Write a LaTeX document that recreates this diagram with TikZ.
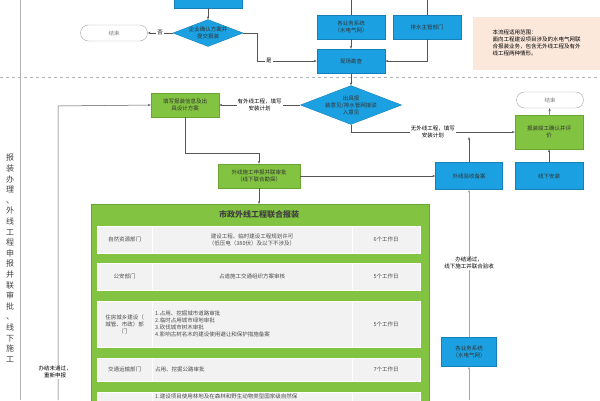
\documentclass[tikz,border=0pt]{standalone}
\usepackage{fontspec}
\setmainfont{Noto Sans CJK SC}
\usetikzlibrary{shapes.geometric,arrows.meta}
\definecolor{bl}{HTML}{1BA1E2}
\definecolor{blb}{HTML}{1580B8}
\definecolor{gr}{HTML}{82C341}
\definecolor{grb}{HTML}{6AA532}
\definecolor{pe}{HTML}{FBE8DA}
\definecolor{cell}{HTML}{F2F2F2}
\definecolor{ln}{HTML}{555555}
\tikzset{
 every node/.style={font=\fontsize{5.5pt}{7pt}\selectfont, align=center, inner sep=1pt},
 bbox/.style={draw=blb, fill=bl, text=black!80, minimum width=68pt, minimum height=#1},
 bbox/.default=24pt,
 gbox/.style={draw=grb, fill=gr, text=black!80, minimum width=68pt, minimum height=#1},
 gbox/.default=24pt,
 term/.style={draw=gray!70, fill=white, rounded corners=8pt, minimum width=67pt, minimum height=16pt, text=gray},
 dia/.style={diamond, aspect=2.6, draw=blb, fill=bl, inner sep=0pt, text=black!80},
 cellb/.style={draw=white, fill=cell, text=black!70, inner sep=2pt},
 arr/.style={draw=ln, -{Stealth[length=3pt]}, line width=0.5pt},
 pl/.style={draw=ln, line width=0.5pt},
 lab/.style={fill=white, inner sep=1pt, font=\fontsize{5.5pt}{7pt}\selectfont}
}
\begin{document}
\begin{tikzpicture}[x=1pt,y=-1pt]
\useasboundingbox (0,0) rectangle (600,400);
\begin{scope}
\clip (0,0) rectangle (600,400);
% lanes
\draw[gray!60, line width=0.6pt] (20,0) -- (20,400);
\draw[gray!60, dashed, line width=0.8pt] (0,77) -- (600,77);
\node[font=\fontsize{8pt}{10.6pt}\selectfont, anchor=north, text=black!75] (lane) at (10,153) {报\\装\\办\\理\\、\\外\\线\\工\\程\\申\\报\\并\\联\\审\\批\\、\\线\\下\\施\\工};
% top section
\node[bbox, minimum height=20pt] (topbox) at (208,-2) {};
\node[dia, minimum width=66pt, minimum height=26pt] (d1) at (208,33) {企业确认方案并\\提交报装};
\node[term] (end1) at (114,33) {结束};
\node[bbox] (ywx) at (351,27) {各业务系统\\（水电气网）};
\node[bbox] (psb) at (427,27) {排水主管部门};
\node[bbox] (xckc) at (351,61) {现场勘查};
\node[draw=pe, fill=pe, align=left, minimum width=127pt, minimum height=52pt, anchor=north west, inner sep=2pt] (note) at (473,17) {本流程适用范围：\\面向工程建设项目涉及的水电气网联\\合报装业务，包含无外线工程及有外\\线工程两种情形。};
\draw[arr] (topbox) -- (d1);
\draw[arr] (d1.west) -- node[lab]{否} (end1.east);
\draw[arr] (d1.east) -- (257,33) |- node[lab, pos=0.6]{是} (xckc.west);
\draw[pl] (351,0) -- (ywx.north);
\draw[pl] (427,0) -- (psb.north);
\draw[arr] (ywx) -- (xckc);
\draw[arr] (psb.south) |- (xckc.east);
% middle
\node[dia, minimum width=84pt, minimum height=34pt] (d2) at (351,105) {出具报\\装意见/排水管网接驳\\入意见};
\node[gbox] (txbz) at (185,105) {填写报装信息及出\\具设计方案};
\node[gbox, minimum width=82pt] (wxsg) at (259,176) {外线施工申报并联审批\\（线下联合勘探）};
\node[bbox, minimum height=27pt, minimum width=67pt] (wxys) at (469,176) {外线验收备案};
\node[bbox, minimum height=27pt] (xxaz) at (549,176) {线下安装};
\node[gbox, minimum height=34pt] (jg) at (549,132) {报装竣工确认并评\\价};
\node[term] (end2) at (550,100) {结束};
\draw[arr] (xckc) -- (d2);
\draw[arr] (d2.west) -- node[lab]{有外线工程，填写\\安装计划} (txbz.east);
\draw[arr] (d2.south) |- node[lab, pos=0.75]{无外线工程，填写\\安装计划} (jg.west);
\draw[arr] (txbz.south) -- (185,153) -| (wxsg.north);
\draw[arr] (wxsg.east) -- (wxys.west);
\draw[arr] (wxys.north) -- (469,137);
\draw[arr] (xxaz) -- (jg);
\draw[arr] (jg) -- (end2);
% big green box
\node[draw=grb, fill=gr, minimum width=338pt, minimum height=220pt, anchor=north west] (big) at (91,204) {};
\draw[arr] (wxsg.south) -- (big.north -| wxsg.south);
\node[font=\fontsize{8pt}{10pt}\selectfont\bfseries, text=black!75] (title) at (259,214) {市政外线工程联合报装};
\foreach \n/\ya/\yb/\d/\t in {
 r1/226/253/自然资源部门/6个工作日,
 r2/263/290/公安部门/5个工作日,
 r3/301/347/{住房城乡建设（\\城管、市政）部\\门}/5个工作日,
 r4/358/381/交通运输部门/7个工作日,
 r5/392/430/{}/{}}{
 \node[cellb, minimum width=55pt, minimum height=\yb-\ya, anchor=north west] (\n a) at (97,\ya) {\d};
 \node[cellb, minimum width=200pt, minimum height=\yb-\ya, anchor=north west] (\n b) at (152,\ya) {};
 \node[cellb, minimum width=68pt, minimum height=\yb-\ya, anchor=north west] (\n c) at (352,\ya) {\t};
}
\node[text=black!70] (r1x) at (252,239.5) {建设工程、临时建设工程规划许可\\（低压电（380伏）及以下不涉及）};
\node[text=black!70] (r2x) at (252,276.5) {占道施工交通组织方案审核};
\node[text=black!70, anchor=west, align=left] (r3x) at (154,324) {1.占用、挖掘城市道路审批\\2.临时占用城市绿地审批\\3.砍伐城市树木审批\\4.影响古树名木的建设使用避让和保护措施备案};
\node[text=black!70, anchor=west] (r4x) at (154,369.5) {占用、挖掘公路审批};
\node[text=black!70, anchor=north west, align=left] (r5x) at (154,393) {1.建设项目使用林地及在森林和野生动物类型国家级自然保};
% side lines
\node[bbox, minimum width=55pt, minimum height=29pt] (ywx2) at (469,352) {各业务系统\\（水电气网）};
\draw[arr] (58,400) -- (58,106) -- (txbz.west);
\node[lab] (l1) at (55,372) {办结未通过，\\重新申报};
\draw[arr, gray!70] (469,400) -- (ywx2.south);
\draw[arr, gray!70] (ywx2.north) -- (wxys.south);
\node[lab] (l2) at (469,263) {办结通过，\\线下施工并联合验收};
\end{scope}
\end{tikzpicture}
\end{document}
